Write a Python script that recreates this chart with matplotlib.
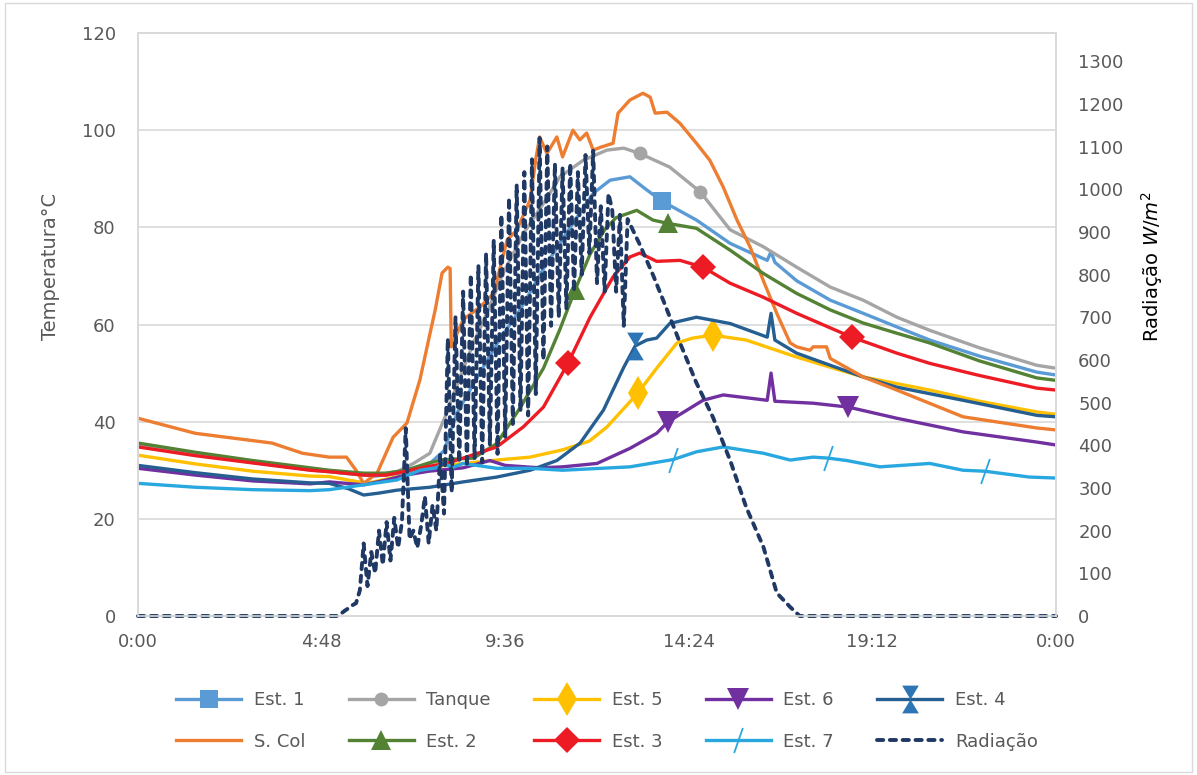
import numpy as np
import matplotlib.pyplot as plt
from matplotlib.path import Path
from matplotlib.lines import Line2D
from matplotlib.patches import Rectangle

# hours of the day and temperatures (°C)
est1_h = [0, 1.5, 3, 4.5, 5.5, 6.2, 7.0, 7.63, 8.0, 8.34, 9.02, 9.5, 9.99, 10.6, 11.3, 11.9, 12.34,
          12.86, 13.3, 13.7, 14.6, 15.48, 16.45, 16.55, 16.65, 17.22, 18.1, 18.96, 19.84, 20.7, 22, 23.5, 24]
est1_t = [35.0, 33.3, 31.6, 30.1, 29.3, 28.8, 29.5, 31.4, 34.0, 41.8, 51.2, 57.5, 63.0, 71.5, 80.0, 87.0, 89.7,
          90.4, 87.7, 85.4, 81.5, 76.7, 73.2, 75.0, 72.8, 69.0, 65.0, 62.3, 59.5, 56.8, 53.5, 50.2, 49.6]
est1_mk = [13.7]

tanque_h = [0, 1.5, 3, 4.5, 5.5, 6.2, 6.8, 7.2, 7.63, 8.07, 8.42, 8.77, 9.1, 9.55, 10.1, 10.69, 11.03,
            11.64, 12.26, 12.7, 13.12, 13.9, 14.7, 15.48, 16.35, 17.22, 18.1, 18.96, 19.84, 20.7, 22, 23.5, 24]
tanque_t = [35.2, 33.5, 31.8, 30.3, 29.5, 29.0, 29.8, 31.4, 33.5, 41.8, 49.2, 56.2, 62.0, 70.6, 79.0, 86.0, 90.4,
            93.8, 95.9, 96.3, 95.2, 92.4, 87.3, 79.5, 76.0, 71.8, 67.7, 65.0, 61.5, 58.8, 55.2, 51.6, 51.0]
tanque_mk = [13.12, 14.7]

est5_h = [0, 1.5, 3, 4.5, 5.0, 5.98, 6.5, 7.0, 8.0, 9.38, 10.25, 11.1, 11.8, 12.26, 13.07, 13.56, 14.09,
          14.5, 15.03, 15.9, 17.22, 18.1, 18.96, 20.7, 22, 23.5, 24]
est5_t = [33.1, 31.3, 29.8, 28.8, 28.7, 27.3, 28.2, 29.0, 31.0, 32.1, 32.7, 34.2, 36.0, 38.9, 45.9, 51.0, 56.2,
          57.2, 57.8, 56.8, 53.3, 51.2, 49.2, 46.5, 44.2, 42.0, 41.5]
est5_mk = [13.07, 15.03]

est6_h = [0, 1.5, 3, 4.5, 5.0, 5.9, 6.5, 7.0, 7.6, 8.5, 9.2, 9.6, 10.5, 11.1, 12.0, 12.86, 13.56, 13.86,
          14.77, 15.3, 16.45, 16.55, 16.65, 17.65, 18.57, 19.84, 21.57, 23.5, 24]
est6_t = [30.4, 29.0, 27.8, 27.2, 27.6, 27.0, 28.0, 29.0, 29.8, 30.5, 32.0, 31.0, 30.5, 30.7, 31.4, 34.5, 37.6, 40.0,
          44.4, 45.5, 44.4, 50.0, 44.2, 43.8, 43.0, 40.7, 37.9, 35.8, 35.2]
est6_mk = [13.86, 18.57]

est4_h = [0, 1.5, 3, 4.5, 5.0, 5.5, 5.9, 6.3, 6.77, 7.63, 8.5, 9.38, 10.25, 10.95, 11.56, 12.17, 12.7,
          13.0, 13.3, 13.56, 13.9, 14.6, 15.48, 16.45, 16.55, 16.65, 17.22, 18.1, 18.96, 19.84, 21.57, 23.5, 24]
est4_t = [31.0, 29.5, 28.2, 27.4, 27.3, 26.2, 24.9, 25.3, 25.9, 26.5, 27.6, 28.6, 30.0, 32.0, 35.6, 42.4, 51.2,
          55.6, 56.8, 57.2, 60.2, 61.5, 60.2, 57.4, 62.3, 56.8, 54.1, 51.6, 49.2, 47.1, 44.4, 41.3, 41.0]
est4_mk = [13.0]

scol_h = [0, 1.5, 3.5, 4.3, 5.0, 5.45, 5.7, 5.9, 6.25, 6.67, 7.03, 7.37, 7.63, 7.77, 7.95, 8.1, 8.16, 8.19,
          8.5, 8.94, 9.3, 9.65, 9.9, 10.25, 10.4, 10.5, 10.69, 10.95, 11.1, 11.37, 11.55, 11.73, 11.9, 12.1,
          12.42, 12.55, 12.86, 13.2, 13.39, 13.52, 13.83, 14.17, 14.6, 14.95, 15.3, 15.66, 16.0, 16.35, 16.7,
          17.05, 17.22, 17.57, 17.65, 18.0, 18.1, 18.96, 19.84, 21.57, 23.5, 24]
scol_t = [40.7, 37.6, 35.6, 33.5, 32.7, 32.7, 30.0, 27.3, 29.4, 36.8, 39.7, 48.6, 58.0, 63.0, 70.6, 71.8, 71.5, 55.4,
          61.0, 63.6, 66.4, 77.4, 79.4, 85.6, 94.0, 98.6, 95.2, 98.6, 94.5, 100.0, 98.0, 99.4, 95.9, 96.5,
          97.3, 103.5, 106.2, 107.6, 106.8, 103.5, 103.7, 101.4, 97.3, 93.8, 88.3, 81.5, 76.0, 69.0, 62.3,
          56.2, 55.4, 54.7, 55.4, 55.4, 53.0, 49.2, 46.5, 41.0, 38.7, 38.3]

est2_h = [0, 1.5, 3, 4.5, 5.0, 5.9, 6.5, 7.0, 7.6, 8.0, 8.77, 9.38, 10.0, 10.6, 11.03, 11.42, 11.82,
          12.2, 12.5, 13.04, 13.46, 13.86, 14.6, 15.48, 16.35, 17.22, 18.1, 18.96, 19.84, 20.7, 22, 23.5, 24]
est2_t = [35.6, 33.7, 32.0, 30.5, 30.0, 29.4, 29.4, 30.0, 31.5, 32.2, 32.5, 35.5, 43.0, 51.0, 59.0, 67.0, 74.5,
          79.5, 82.0, 83.5, 81.5, 80.8, 79.8, 75.3, 70.5, 66.4, 63.0, 60.3, 58.2, 56.2, 52.5, 49.0, 48.5]
est2_mk = [11.42, 13.86]

est3_h = [0, 1.5, 3, 4.5, 5.0, 5.9, 6.5, 7.0, 7.6, 8.1, 8.5, 9.38, 10.07, 10.6, 11.24, 11.82, 12.42,
          12.86, 13.12, 13.56, 14.17, 14.77, 15.48, 16.35, 17.22, 18.1, 18.66, 19.84, 20.7, 22, 23.5, 24]
est3_t = [34.8, 33.0, 31.5, 30.0, 29.7, 29.0, 29.0, 29.8, 30.8, 31.5, 32.5, 34.8, 38.9, 43.0, 52.0, 61.5, 69.8,
          73.9, 74.7, 73.0, 73.2, 71.8, 68.5, 65.6, 62.3, 59.3, 57.4, 54.1, 52.0, 49.5, 46.9, 46.5]
est3_mk = [11.24, 14.77, 18.66]

est7_h = [0, 1.5, 3, 4.5, 5.0, 5.9, 6.77, 7.37, 7.8, 8.0, 8.2, 8.5, 9.38, 10.25, 11.1, 12.86, 13.99, 14.6,
          15.3, 16.35, 17.05, 17.65, 18.04, 18.53, 19.4, 20.7, 21.57, 22.14, 23.3, 24]
est7_t = [27.3, 26.5, 26.0, 25.8, 26.0, 27.0, 28.0, 30.0, 30.5, 31.5, 30.5, 31.4, 30.4, 30.4, 30.0, 30.7, 32.2, 33.8,
          34.8, 33.5, 32.1, 32.7, 32.5, 32.0, 30.7, 31.4, 30.0, 29.8, 28.6, 28.4]
est7_mk = [13.99, 18.04, 22.14]

# radiation (W/m2): quiet start, noisy morning sampled every 0.1 h, smooth afternoon decay
rad_h = [0, 5.2] + list(np.round(np.arange(5.3, 12.85, 0.1), 1)) + \
        [13.12, 13.46, 13.73, 14.17, 14.6, 15.03, 15.48, 15.9, 16.35, 16.7, 17.05, 17.3, 24]
rad_v = [0, 0,
         5, 12, 18, 25, 30, 60, 170, 70, 150, 100,
         200, 120, 220, 130, 230, 160, 220, 440, 180, 200,
         160, 210, 280, 170, 260, 200, 380, 240, 650, 290,
         700, 360, 760, 350, 800, 370, 820, 360, 850, 400,
         880, 380, 940, 420, 980, 450, 1010, 480, 1040, 470,
         1070, 520, 1120, 600, 1100, 680, 1060, 700, 1050, 720,
         1060, 760, 1040, 800, 1080, 850, 1090, 780, 960, 760,
         990, 950, 760, 940, 680, 930,
         870, 800, 740, 640, 546, 466, 365, 255, 162, 54, 21, 0, 0]

x_ticks = [0, 4.8, 9.6, 14.4, 19.2, 24]
x_labels = ['0:00', '4:48', '9:36', '14:24', '19:12', '0:00']

# custom markers
hourglass = Path([(-0.6, 1), (0.6, 1), (0, 0), (0.6, -1), (-0.6, -1), (0, 0), (-0.6, 1)])
slash = Path([(-0.35, -1), (0.35, 1)], [Path.MOVETO, Path.LINETO])

gray = '#595959'
rad_style = dict(color='#1F3864', lw=2.8, linestyle=(0, (1.6, 1.7)), dash_capstyle='round')
plt.rcParams['font.family'] = ['DejaVu Sans']

fig = plt.figure(figsize=(11.97, 7.75), dpi=100)
ax = fig.add_axes([138 / 1197, 1 - 616 / 775, 918 / 1197, 583 / 775])
ax2 = ax.twinx()


def mk_idx(hours, marks):
    h = np.asarray(hours)
    return [int(np.argmin(np.abs(h - m))) for m in marks]


# (label, hours, temps, marks, line colour, marker, marker size, marker colour)
series = [
    ('Est. 1', est1_h, est1_t, est1_mk, '#5B9BD5', 's', 12.5, '#5B9BD5'),
    ('Tanque', tanque_h, tanque_t, tanque_mk, '#A5A5A5', 'o', 10, '#A5A5A5'),
    ('Est. 5', est5_h, est5_t, est5_mk, '#FFC000', 'd', 17, '#FFC000'),
    ('Est. 6', est6_h, est6_t, est6_mk, '#7030A0', 'v', 16, '#7030A0'),
    ('Est. 4', est4_h, est4_t, est4_mk, '#255E91', hourglass, 20, '#2E75B6'),
    ('S. Col', scol_h, scol_t, [], '#ED7D31', None, 0, '#ED7D31'),
    ('Est. 2', est2_h, est2_t, est2_mk, '#548235', '^', 15, '#548235'),
    ('Est. 3', est3_h, est3_t, est3_mk, '#ED1C24', 'D', 13, '#ED1C24'),
    ('Est. 7', est7_h, est7_t, est7_mk, '#29A8E0', slash, 18, '#29A8E0'),
]

handles = {}
for lab, hh, tt, mks, c, m, ms, mc in series:
    slash_like = m is slash
    ax.plot(hh, tt, color=c, lw=2.4, solid_joinstyle='round',
            marker=m, markevery=mk_idx(hh, mks) if mks else None, ms=ms,
            mfc='none' if slash_like else mc, mec=mc, mew=1.3 if slash_like else 0)
    handles[lab] = Line2D([], [], color=c, lw=2.4, marker=m, ms=ms,
                          mfc='none' if slash_like else mc, mec=mc, mew=1.3 if slash_like else 0)

ax2.plot(rad_h, rad_v, clip_on=False, **rad_style)
handles['Radiação'] = Line2D([], [], **rad_style)

# axes styling
ax.set_xlim(0, 24)
ax.set_ylim(0, 120)
ax.set_yticks(range(0, 121, 20))
ax.set_xticks(x_ticks)
ax.set_xticklabels(x_labels)
ax2.set_ylim(0, 1366)
ax2.set_yticks(range(0, 1301, 100))

ax.grid(axis='y', color='#D9D9D9', lw=1.2)
ax.set_axisbelow(True)
for a in (ax, ax2):
    for s in a.spines.values():
        s.set_color('#D9D9D9')
        s.set_linewidth(1.2)
ax.tick_params(axis='y', length=0, labelsize=13, labelcolor=gray, pad=16)
ax.tick_params(axis='x', length=0, labelsize=13, labelcolor=gray, pad=12)
ax2.tick_params(axis='y', length=0, labelsize=13, labelcolor=gray, pad=16)

ax.set_ylabel('Temperatura°C', fontsize=14, color=gray)
ax.yaxis.set_label_coords(-0.085, 0.60)
ax2.set_ylabel('Radiação $W/m^2$', fontsize=14, color='black', rotation=90)
ax2.yaxis.set_label_coords(1.091, 0.60)

# legend: two rows of five, row-major order
order = ['Est. 1', 'S. Col', 'Tanque', 'Est. 2', 'Est. 5', 'Est. 3', 'Est. 6', 'Est. 7', 'Est. 4', 'Radiação']
leg = fig.legend([handles[k] for k in order], order, loc='center', ncol=5,
                 bbox_to_anchor=(607 / 1197, 1 - 721 / 775), frameon=False, fontsize=13,
                 handlelength=3.6, handletextpad=0.7, columnspacing=2.4, labelspacing=1.3)
for t in leg.get_texts():
    t.set_color(gray)

fig.patches.append(Rectangle((0.004, 0.004), 0.992, 0.992, transform=fig.transFigure,
                             fill=False, edgecolor='#D9D9D9', lw=1))

fig.savefig('out.png', dpi=100)
